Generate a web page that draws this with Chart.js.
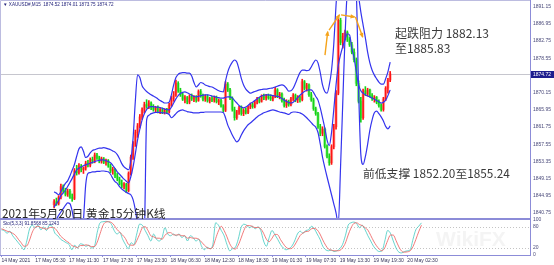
<!DOCTYPE html>
<html>
<head>
<meta charset="utf-8">
<script src="https://cdn.jsdelivr.net/npm/chart.js@4"></script>
<style>
html, body { margin: 0; padding: 0; background: #fff; }
#wrap { position: relative; width: 554px; height: 265px; overflow: hidden; }
canvas { position: absolute; left: 0; }
#main { top: 0; }
#sto { top: 216px; }
.t { position: absolute; white-space: nowrap; font-family: "Noto Sans CJK SC", "Noto Sans", sans-serif; color: #3a3a3a; line-height: 1; }
.s { position: absolute; white-space: nowrap; font-family: "Liberation Sans", sans-serif; font-size: 4.6px; color: #23237a; line-height: 1; }
</style>
</head>
<body>
<div id="wrap">
<canvas id="main" width="554" height="220"></canvas>
<canvas id="sto" width="554" height="49"></canvas>
<div class="s" style="left:3px;top:3px">▼ XAUUSD#,M15&nbsp; 1874.52 1874.01 1873.75 1874.72</div>
<div class="s" style="left:3px;top:222px">Sto(5,3,3) 91.8568 85.1243</div>
<div class="t" style="left:395px;top:27px;font-size:12px">起跌阻力 1882.13</div>
<div class="t" style="left:395px;top:42px;font-size:12px">至1885.83</div>
<div class="t" style="left:363px;top:167px;font-size:11.8px">前低支撑 1852.20至1855.24</div>
<div class="t" style="left:2px;top:207px;font-size:11.8px;color:#262626">2021年5月20日 黄金15分钟K线</div>
<div class="t" style="left:436px;top:228px;font-size:21px;font-weight:bold;color:rgba(120,120,120,0.08);font-family:'Liberation Sans',sans-serif">WikiFX</div>
</div>
<script>
// 15 min candles, 14 May .. 20 May 2021
const opens = [
  1842.8,1843.5,1843.0,1844.6,1847.2,1846.2,1845.3,1846.1,1844.6,1844.3,
  1851.0,1850.6,1852.2,1851.3,1851.7,1852.9,1852.4,1853.8,1853.4,1854.9,
  1854.2,1853.4,1854.0,1853.1,1853.5,1852.2,1851.0,1851.4,1849.8,1849.0,
  1848.0,1847.3,1847.8,1846.2,1850.4,1854.4,1857.6,1860.4,1862.0,1864.2,
  1865.9,1867.2,1866.8,1867.6,1866.4,1866.0,1866.5,1865.6,1866.0,1865.3,
  1865.8,1865.4,1867.1,1868.7,1869.6,1872.4,1870.6,1869.6,1868.5,1868.9,
  1867.8,1869.2,1868.6,1869.0,1868.2,1870.4,1869.3,1868.5,1869.2,1868.1,
  1868.7,1868.3,1869.0,1867.9,1868.2,1866.9,1865.8,1872.2,1870.8,1868.8,
  1866.0,1864.0,1865.4,1866.4,1865.0,1865.8,1865.3,1866.6,1867.2,1866.7,
  1867.8,1868.6,1868.0,1869.3,1868.8,1869.4,1868.9,1868.6,1869.2,1870.8,
  1869.3,1869.8,1868.2,1867.0,1868.0,1867.2,1868.6,1869.5,1868.3,1869.0,
  1868.4,1872.8,1871.2,1872.0,1869.6,1868.4,1866.2,1865.0,1861.8,1860.2,
  1861.2,1857.0,1854.6,1853.0,1856.9,1861.8,1870.0,1887.8,1882.4,1883.9,
  1884.9,1883.0,1881.8,1880.0,1878.2,1872.4,1868.0,1864.0,1870.6,1869.8,
  1870.8,1869.4,1868.6,1869.0,1867.8,1867.0,1866.0,1868.6,1871.2,1873.2
];
const highs = [
  1844.0,1844.4,1845.0,1847.8,1847.6,1846.8,1846.6,1846.5,1845.4,1851.6,
  1852.4,1852.8,1852.6,1852.0,1853.4,1853.6,1854.2,1854.4,1855.4,1855.3,
  1854.6,1854.4,1854.3,1853.9,1853.8,1852.7,1851.9,1851.6,1850.4,1849.5,
  1848.8,1848.2,1848.0,1850.8,1854.9,1858.2,1861.0,1862.6,1864.8,1866.4,
  1867.8,1868.4,1868.2,1867.9,1867.2,1866.8,1866.9,1866.5,1866.4,1866.2,
  1866.3,1867.6,1869.2,1870.4,1873.2,1872.8,1871.2,1870.0,1869.4,1869.2,
  1869.6,1869.8,1869.4,1869.4,1870.8,1870.9,1869.8,1869.6,1869.6,1869.0,
  1869.2,1869.3,1869.3,1868.6,1868.5,1867.2,1872.8,1872.6,1871.2,1869.1,
  1866.6,1865.8,1866.8,1866.9,1866.2,1866.4,1866.9,1867.6,1867.6,1868.2,
  1869.0,1869.0,1869.6,1869.8,1869.7,1869.8,1869.6,1869.5,1871.4,1871.1,
  1870.2,1870.1,1868.8,1868.4,1868.3,1869.0,1869.9,1869.8,1869.4,1869.3,
  1873.4,1873.1,1872.4,1872.3,1870.2,1868.8,1866.6,1865.3,1862.4,1861.8,
  1861.5,1857.4,1855.2,1857.4,1862.4,1870.6,1888.6,1888.3,1884.6,1885.4,
  1885.2,1883.6,1882.4,1880.8,1878.6,1873.0,1869.0,1871.0,1871.6,1871.2,
  1871.0,1869.9,1869.4,1869.2,1868.4,1867.4,1869.0,1871.6,1873.6,1875.3
];
const lows = [
  1842.0,1842.6,1842.7,1844.2,1845.8,1844.9,1844.8,1844.3,1843.6,1844.0,
  1850.0,1850.2,1850.8,1850.4,1851.2,1852.0,1852.0,1852.9,1853.0,1853.8,
  1853.0,1852.9,1852.8,1852.4,1851.9,1850.6,1850.2,1849.4,1848.6,1847.6,
  1846.9,1846.6,1845.7,1845.9,1850.0,1853.8,1857.0,1859.2,1861.5,1863.6,
  1865.2,1866.3,1866.2,1866.0,1865.6,1865.3,1865.2,1865.0,1865.0,1864.9,
  1865.0,1865.1,1866.8,1868.0,1869.2,1870.2,1869.2,1868.2,1867.6,1867.4,
  1867.4,1868.2,1867.9,1867.8,1868.0,1869.0,1868.1,1868.0,1867.8,1867.6,
  1867.9,1867.8,1867.6,1867.2,1866.6,1865.4,1865.5,1870.4,1868.4,1865.6,
  1863.4,1863.6,1864.8,1864.6,1864.5,1864.9,1865.0,1866.2,1866.3,1866.4,
  1867.4,1867.6,1867.8,1868.4,1868.3,1868.5,1868.2,1868.1,1868.9,1868.9,
  1868.6,1867.8,1866.6,1866.5,1866.8,1866.9,1868.2,1867.9,1867.7,1867.8,
  1868.1,1870.8,1870.5,1869.2,1868.0,1865.8,1864.6,1861.4,1859.6,1859.6,
  1856.6,1854.2,1852.4,1852.6,1856.4,1861.2,1869.6,1881.8,1881.0,1883.0,
  1882.6,1881.4,1879.6,1877.6,1871.8,1867.6,1862.9,1863.6,1869.4,1869.3,
  1869.0,1868.2,1867.8,1867.4,1866.6,1865.6,1865.6,1868.2,1870.0,1872.8
];
const closes = [
  1843.5,1843.0,1844.6,1847.2,1846.2,1845.3,1846.1,1844.6,1844.3,1851.0,
  1850.6,1852.2,1851.3,1851.7,1852.9,1852.4,1853.8,1853.4,1854.9,1854.2,
  1853.4,1854.0,1853.1,1853.5,1852.2,1851.0,1851.4,1849.8,1849.0,1848.0,
  1847.3,1847.8,1846.2,1850.4,1854.4,1857.6,1860.4,1862.0,1864.2,1865.9,
  1867.2,1866.8,1867.6,1866.4,1866.0,1866.5,1865.6,1866.0,1865.3,1865.8,
  1865.4,1867.1,1868.7,1869.6,1872.4,1870.6,1869.6,1868.5,1868.9,1867.8,
  1869.2,1868.6,1869.0,1868.2,1870.4,1869.3,1868.5,1869.2,1868.1,1868.7,
  1868.3,1869.0,1867.9,1868.2,1866.9,1865.8,1872.2,1870.8,1868.8,1866.0,
  1864.0,1865.4,1866.4,1865.0,1865.8,1865.3,1866.6,1867.2,1866.7,1867.8,
  1868.6,1868.0,1869.3,1868.8,1869.4,1868.9,1868.6,1869.2,1870.8,1869.3,
  1869.8,1868.2,1867.0,1868.0,1867.2,1868.6,1869.5,1868.3,1869.0,1868.4,
  1872.8,1871.2,1872.0,1869.6,1868.4,1866.2,1865.0,1861.8,1860.2,1861.2,
  1857.0,1854.6,1853.0,1856.9,1861.8,1870.0,1887.8,1882.4,1883.9,1884.9,
  1883.0,1881.8,1880.0,1878.2,1872.4,1868.0,1864.0,1870.6,1869.8,1870.8,
  1869.4,1868.6,1869.0,1867.8,1867.0,1866.0,1868.6,1871.2,1873.2,1874.72
];

// envelope lines drawn on the price panel
const upper = [
  1845.9,1845.6,1845.2,1846.0,1847.0,1848.0,1848.6,1849.8,1851.2,1852.6,
  1854.6,1856.4,1856.9,1855.8,1854.3,1854.6,1855.4,1856.0,1856.2,1856.4,
  1856.6,1856.6,1856.7,1856.6,1856.4,1856.2,1855.9,1855.6,1855.0,1854.0,
  1852.8,1852.0,1851.6,1851.3,1853.5,1859.0,1868.0,1874.5,1873.8,1871.8,
  1871.0,1870.4,1870.0,1869.6,1869.3,1869.0,1868.6,1868.2,1867.9,1867.6,
  1867.6,1867.8,1869.6,1872.0,1873.8,1874.6,1874.9,1875.0,1875.0,1874.9,
  1874.9,1874.2,1872.6,1871.5,1872.0,1872.6,1872.4,1872.0,1871.8,1871.6,
  1871.5,1871.2,1870.9,1870.6,1870.4,1870.3,1873.0,1875.2,1876.6,1877.6,
  1878.1,1877.6,1875.8,1873.6,1872.0,1871.0,1870.4,1870.0,1870.2,1870.4,
  1870.6,1870.8,1870.9,1871.0,1871.0,1871.1,1871.2,1871.3,1871.5,1871.7,
  1871.9,1872.0,1871.8,1871.2,1870.5,1870.6,1871.2,1872.4,1873.8,1875.0,
  1875.6,1875.6,1875.5,1875.6,1876.4,1877.4,1878.1,1877.4,1875.0,1872.0,
  1870.4,1870.0,1872.0,1875.6,1882.0,1891.5,1898.0,1900.0,1900.0,1900.0,
  1900.0,1900.0,1900.0,1900.0,1896.0,1893.5,1889.8,1886.6,1883.5,1880.0,
  1877.4,1875.6,1874.4,1873.5,1872.7,1872.2,1872.2,1873.5,1875.2,1877.6
];
const middle = [
  1842.2,1843.0,1843.8,1845.0,1845.6,1846.3,1847.2,1848.2,1849.2,1850.3,
  1851.3,1851.7,1852.0,1852.3,1852.5,1852.7,1852.9,1853.1,1853.3,1853.5,
  1853.6,1853.7,1853.7,1853.5,1853.3,1853.0,1852.4,1851.6,1850.8,1850.2,
  1849.6,1849.0,1848.5,1848.1,1849.6,1852.0,1855.2,1858.6,1861.2,1863.4,
  1865.0,1866.0,1866.6,1866.7,1866.7,1866.6,1866.6,1866.5,1866.3,1866.1,
  1866.0,1865.9,1866.6,1867.6,1868.6,1869.4,1869.9,1870.2,1870.3,1870.1,
  1869.8,1869.5,1869.2,1869.1,1869.2,1869.4,1869.5,1869.6,1869.6,1869.5,
  1869.3,1869.2,1869.0,1868.9,1868.8,1868.8,1869.0,1869.1,1869.1,1868.8,
  1868.2,1867.6,1867.0,1866.6,1866.4,1866.6,1867.0,1867.5,1867.8,1868.2,
  1868.6,1869.0,1869.3,1869.5,1869.6,1869.6,1869.5,1869.4,1869.3,1869.2,
  1869.0,1868.7,1868.3,1868.0,1867.7,1867.6,1867.8,1868.3,1868.9,1869.5,
  1870.0,1870.4,1870.7,1870.8,1870.8,1870.2,1869.2,1868.3,1866.4,1864.0,
  1861.5,1858.6,1857.2,1860.4,1866.0,1872.0,1876.8,1879.4,1881.4,1883.0,
  1884.5,1884.2,1881.0,1878.6,1875.2,1872.0,1870.6,1870.0,1869.6,1869.3,
  1869.1,1868.8,1868.5,1868.2,1867.9,1867.6,1867.8,1868.3,1869.4,1870.8
];
const lower = [
  1838.4,1839.2,1840.2,1841.0,1841.8,1842.6,1843.2,1843.0,1841.2,1838.0,
  1835.0,1834.0,1835.0,1839.0,1847.6,1850.4,1850.6,1850.8,1850.8,1850.9,
  1850.9,1851.0,1851.0,1850.9,1850.8,1850.2,1849.2,1848.4,1848.0,1847.2,
  1846.6,1846.2,1845.8,1845.5,1845.2,1844.0,1841.5,1838.0,1835.0,1834.0,
  1836.0,1863.4,1864.6,1865.0,1865.2,1865.3,1865.3,1865.3,1865.2,1865.2,
  1865.1,1864.8,1864.0,1864.4,1865.0,1865.5,1865.8,1865.9,1865.7,1865.5,
  1865.4,1865.3,1865.2,1865.2,1865.2,1865.3,1865.3,1865.4,1865.4,1865.4,
  1865.4,1865.4,1865.4,1865.4,1865.4,1865.3,1864.0,1862.2,1861.0,1859.8,
  1858.8,1858.1,1858.6,1859.8,1860.8,1861.6,1862.3,1862.7,1863.2,1863.7,
  1864.2,1864.6,1864.9,1865.2,1865.4,1865.6,1865.8,1865.9,1865.8,1865.6,
  1865.4,1865.3,1865.2,1865.0,1864.8,1865.2,1865.4,1865.4,1865.3,1865.2,
  1864.9,1864.5,1864.0,1863.4,1862.8,1862.2,1861.7,1860.4,1857.6,1854.4,
  1851.9,1849.6,1847.4,1845.2,1843.0,1840.8,1838.0,1852.0,1868.0,1884.0,
  1895.0,1898.0,1898.0,1897.0,1894.0,1871.0,1855.0,1852.6,1854.5,1857.5,
  1861.0,1863.5,1865.2,1865.6,1865.0,1864.2,1863.2,1861.9,1861.3,1862.0
];

// Stochastic (5,3,3): main and signal
const stoK = [
  72,70,62,68,55,45,35,25,15,40,
  75,85,78,85,72,80,70,85,82,62,
  55,45,40,35,30,15,28,20,32,30,
  25,28,20,25,65,92,95,96,95,88,
  70,60,65,45,30,18,35,30,60,88,
  85,70,55,40,60,45,40,50,78,60,
  55,60,55,60,50,55,40,55,50,40,
  45,25,15,22,18,30,92,85,70,55,
  30,12,18,22,45,78,88,85,78,82,
  75,80,70,40,25,50,70,58,45,30,
  20,15,18,25,40,60,68,62,70,72,
  82,75,60,45,25,15,12,14,10,12,
  18,30,55,85,92,94,90,78,85,72,
  55,40,25,15,10,12,40,70,62,40,
  20,8,6,10,12,15,45,72,82,91.86
];
const stoD = [
  75,72,68,66,62,56,45,35,25,26,
  43,66,79,82,78,76,74,78,79,76,
  66,54,47,40,35,27,24,21,27,27,
  29,27,24,24,37,61,84,94,95,93,
  85,73,65,57,47,31,28,28,41,59,
  78,81,70,55,52,48,48,45,56,63,
  64,58,57,58,55,55,48,50,48,48,
  45,37,28,21,18,23,47,69,82,70,
  52,32,20,17,28,48,70,84,84,82,
  78,79,75,62,45,38,48,59,58,44,
  32,22,18,19,28,42,56,63,67,68,
  75,76,72,60,43,28,17,14,12,12,
  13,20,34,57,77,90,92,87,84,78,
  71,56,40,27,17,12,21,41,57,57,
  41,23,11,8,9,12,24,44,66,85.12
];

const xTickIdx = [0, 12, 24, 36, 48, 60, 72, 84, 96, 108, 120, 132, 144];
const xLabels = ['14 May 2021', '17 May 05:30', '17 May 11:30', '17 May 17:30', '17 May 23:30',
  '18 May 06:30', '18 May 12:30', '18 May 18:30', '19 May 01:30', '19 May 07:30',
  '19 May 13:30', '19 May 19:30', '20 May 02:30'];
const yTicks = [1891.15, 1886.95, 1882.75, 1878.55, 1870.15, 1865.95, 1861.75, 1857.55, 1853.35, 1849.15, 1844.95, 1840.75];
const stoTicks = [100, 80, 20, 0];

// hand drawn orange arrows (bar index, price)
const arrowA = [{ x: 120.1, y: 1879.3 }, { x: 121.3, y: 1885.0 }];
const arrowB = [{ x: 121.9, y: 1885.4 }, { x: 126.5, y: 1889.1 }];
const arrowC = [{ x: 127.2, y: 1889.1 }, { x: 133.2, y: 1888.6 }];
const arrowD = [{ x: 133.6, y: 1888.6 }, { x: 136.8, y: 1883.7 }];

const idx = closes.map((_, i) => i);
const isUp = idx.map(i => closes[i] >= opens[i]);
const lastPrice = closes[closes.length - 1];
const axisFont = { family: 'Liberation Sans', size: 5 };
const frameColor = '#8c8cd8';

Chart.defaults.animation = false;
Chart.defaults.font.family = 'Liberation Sans';

function fixY(s) { s.width = 24; s.paddingTop = 0; s.paddingBottom = 0; }
function band(vals) {
  return { type: 'line', data: idx.map(i => ({ x: i, y: vals[i] })), borderColor: '#3434ee', borderWidth: 1.2,
    pointRadius: 0, cubicInterpolationMode: 'monotone', order: 1 };
}
function arrow(pts) {
  return { type: 'line', data: pts, borderColor: '#f5a31a', borderWidth: 1.4, pointRadius: 0, order: 0, arrow: true };
}

const mainDeco = {
  id: 'mainDeco',
  beforeDatasetsDraw(chart) {
    const { ctx, chartArea } = chart;
    const y = Math.round(chart.scales.y.getPixelForValue(lastPrice)) + 0.5;
    ctx.save();
    ctx.strokeStyle = '#c6c6ce';
    ctx.lineWidth = 1;
    ctx.beginPath(); ctx.moveTo(chartArea.left, y); ctx.lineTo(chartArea.right, y); ctx.stroke();
    ctx.restore();
  },
  afterDraw(chart) {
    const { ctx, chartArea } = chart;
    ctx.save();
    chart.data.datasets.forEach((ds, di) => {
      if (!ds.arrow) return;
      const pts = chart.getDatasetMeta(di).data;
      const a = pts[pts.length - 2], b = pts[pts.length - 1];
      const ang = Math.atan2(b.y - a.y, b.x - a.x);
      ctx.fillStyle = ds.borderColor;
      ctx.beginPath();
      ctx.moveTo(b.x + Math.cos(ang), b.y + Math.sin(ang));
      ctx.lineTo(b.x - 4.5 * Math.cos(ang - 0.5), b.y - 4.5 * Math.sin(ang - 0.5));
      ctx.lineTo(b.x - 4.5 * Math.cos(ang + 0.5), b.y - 4.5 * Math.sin(ang + 0.5));
      ctx.closePath(); ctx.fill();
    });
    // panel frame
    ctx.strokeStyle = '#bcbce0';
    ctx.lineWidth = 1;
    ctx.beginPath();
    ctx.moveTo(0.5, chartArea.bottom); ctx.lineTo(0.5, 0.5); ctx.lineTo(chartArea.right, 0.5);
    ctx.stroke();
    ctx.strokeStyle = frameColor;
    ctx.lineWidth = 2;
    ctx.beginPath(); ctx.moveTo(0, chartArea.bottom - 1); ctx.lineTo(chartArea.right, chartArea.bottom - 1); ctx.stroke();
    // last price tag
    const y = Math.round(chart.scales.y.getPixelForValue(lastPrice));
    ctx.fillStyle = '#1d1d8e';
    ctx.fillRect(chartArea.right + 1, y - 3, 23, 7);
    ctx.fillStyle = '#ffffff';
    ctx.font = '5px "Liberation Sans"';
    ctx.textBaseline = 'middle';
    ctx.fillText(lastPrice.toFixed(2), chartArea.right + 3, y + 0.5);
    ctx.restore();
  }
};

new Chart(document.getElementById('main'), {
  type: 'bar',
  data: {
    datasets: [
      { type: 'bar', data: idx.map(i => ({ x: i, y: [opens[i], closes[i]] })),
        backgroundColor: idx.map(i => isUp[i] ? 'rgba(255,95,95,0.45)' : 'rgba(70,220,70,0.45)'),
        barThickness: 2.6, grouped: false, order: 5 },
      { type: 'bar', data: idx.map(i => ({ x: i, y: [lows[i], highs[i]] })),
        backgroundColor: idx.map(i => isUp[i] ? '#ff1414' : '#14d414'),
        barThickness: 1, grouped: false, order: 4 },
      band(upper), band(middle), band(lower),
      arrow(arrowA), arrow(arrowB), arrow(arrowC), arrow(arrowD)
    ]
  },
  options: {
    responsive: false,
    layout: { padding: 0 },
    plugins: { legend: { display: false }, tooltip: { enabled: false } },
    scales: {
      x: { type: 'linear', display: false, min: -0.5, max: 187.5 },
      y: {
        position: 'right', min: 1839.04, max: 1892.74,
        afterBuildTicks: s => { s.ticks = yTicks.map(v => ({ value: v })); },
        afterFit: fixY,
        ticks: { font: axisFont, color: '#4a4a7a', padding: 3, autoSkip: false, callback: v => v.toFixed(2) },
        grid: { display: false, drawTicks: false },
        border: { display: true, color: frameColor }
      }
    }
  },
  plugins: [mainDeco]
});

const stoDeco = {
  id: 'stoDeco',
  beforeDatasetsDraw(chart) {
    const { ctx, chartArea } = chart;
    ctx.save();
    ctx.strokeStyle = '#c4c4c4';
    ctx.lineWidth = 1;
    ctx.setLineDash([1, 2]);
    [80, 20].forEach(v => {
      const y = Math.round(chart.scales.y.getPixelForValue(v)) + 0.5;
      ctx.beginPath(); ctx.moveTo(chartArea.left, y); ctx.lineTo(chartArea.right, y); ctx.stroke();
    });
    ctx.setLineDash([]);
    ctx.strokeStyle = '#bcbce0';
    ctx.beginPath(); ctx.moveTo(0.5, chartArea.top); ctx.lineTo(0.5, chartArea.bottom); ctx.stroke();
    ctx.restore();
  }
};

new Chart(document.getElementById('sto'), {
  type: 'line',
  data: {
    datasets: [
      { data: idx.map(i => ({ x: i, y: stoD[i] })), borderColor: 'rgba(238,100,100,0.85)', borderWidth: 1,
        pointRadius: 0, cubicInterpolationMode: 'monotone' },
      { data: idx.map(i => ({ x: i, y: stoK[i] })), borderColor: 'rgba(40,195,185,0.7)', borderWidth: 1,
        pointRadius: 0, cubicInterpolationMode: 'monotone' }
    ]
  },
  options: {
    responsive: false,
    layout: { padding: { top: 4 } },
    plugins: { legend: { display: false }, tooltip: { enabled: false } },
    scales: {
      x: {
        type: 'linear', min: -0.5, max: 187.5,
        afterBuildTicks: s => { s.ticks = xTickIdx.map(v => ({ value: v })); },
        afterFit: s => { s.height = 10; s.paddingLeft = 0; s.paddingRight = 0; },
        ticks: { font: axisFont, color: '#33335a', align: 'start', padding: 1, autoSkip: false, maxRotation: 0,
          callback: v => xLabels[xTickIdx.indexOf(v)] },
        grid: { drawOnChartArea: false, tickLength: 2, color: frameColor },
        border: { display: true, color: frameColor }
      },
      y: {
        position: 'right', min: 0, max: 100,
        afterBuildTicks: s => { s.ticks = stoTicks.map(v => ({ value: v })); },
        afterFit: fixY,
        ticks: { font: axisFont, color: '#4a4a7a', padding: 3, autoSkip: false },
        grid: { display: false, drawTicks: false },
        border: { display: true, color: frameColor }
      }
    }
  },
  plugins: [stoDeco]
});
</script>
</body>
</html>
